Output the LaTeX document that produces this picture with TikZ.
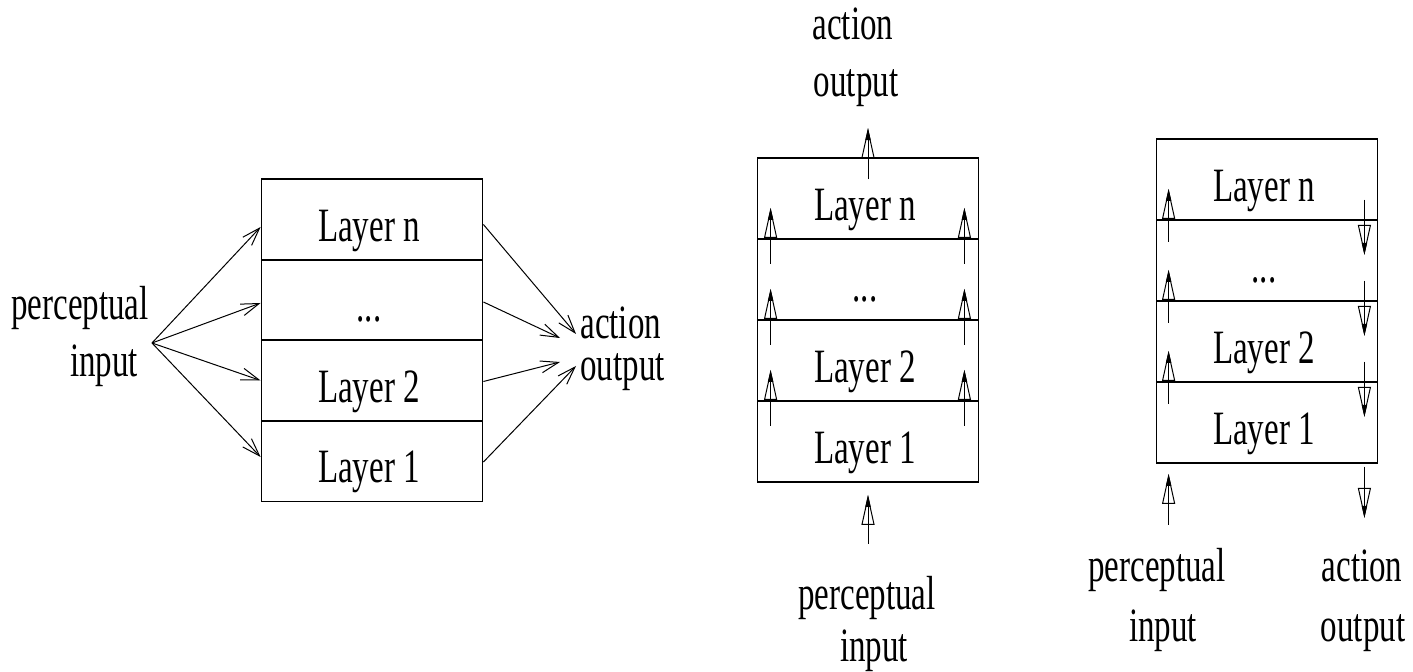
\documentclass[tikz,border=0pt]{standalone}
\usepackage{fontspec}
\usepackage{graphicx}
\setmainfont{Liberation Serif}
\usetikzlibrary{arrows.meta,calc}
\newcommand{\lblfont}{\fontsize{16.5pt}{20pt}\selectfont}
\newcommand{\st}[1]{\scalebox{1}[1.45]{#1}}
\begin{document}
\begin{tikzpicture}[x=0.5pt,y=-0.5pt,
  row/.style={draw,line width=0.9pt,minimum width=110.5pt,minimum height=40.5pt,inner sep=0pt},
  lbl/.style={inner sep=0pt,font=\lblfont,anchor=base},
  vert/.style={line width=0.5pt,-{Triangle[open,length=15pt,width=6.5pt]},
    postaction={draw,arrows=-{Triangle[length=6pt,width=2.6pt]}}},
  fan/.style={line width=0.5pt,-{Straight Barb[length=9pt,width=6pt]}}]
\useasboundingbox (0,0) rectangle (1413,672);
% ---------- left diagram ----------
\node[row] (Ln) at (372,219.5) {};
\node[row] (Ld) at (372,300) {};
\node[row] (L2) at (372,380.5) {};
\node[row] (L1) at (372,461) {};
\node[lbl] (Lnt) at ($(Ln)+(-3,22)$) {\st{Layer n}};
\node[lbl] (Ldt) at ($(Ld)+(-3,22)$) {\st{...}};
\node[lbl] (L2t) at ($(L2)+(-3,22)$) {\st{Layer 2}};
\node[lbl] (L1t) at ($(L1)+(-3,22)$) {\st{Layer 1}};
\node[lbl] (lp) at (80,320) {\st{perceptual}};
\node[lbl] (li) at (104,377) {\st{input}};
\node[lbl,anchor=base west] (la) at (580,339) {\st{action}};
\node[lbl,anchor=base west] (lo) at (580,381) {\st{output}};
\coordinate (pin) at (152,343);
\coordinate (ao1) at (576,334);
\coordinate (ao2) at (560,338);
\coordinate (ao3) at (560,362);
\coordinate (ao4) at (576,366);
\draw[fan] (pin) -- ($(Ln.west)+(0,7.5)$);
\draw[fan] (pin) -- ($(Ld.west)+(0,3)$);
\draw[fan] (pin) -- (L2.west);
\draw[fan] (pin) -- ($(L1.west)+(0,-4)$);
\draw[fan] ($(Ln.east)+(0,5)$) -- (ao1);
\draw[fan] ($(Ld.east)+(0,2)$) -- (ao2);
\draw[fan] ($(L2.east)+(0,1)$) -- (ao3);
\draw[fan] ($(L1.east)+(0,1)$) -- (ao4);
% ---------- middle diagram ----------
\node[row] (Mn) at (868,198.5) {};
\node[row] (Md) at (868,279.5) {};
\node[row] (M2) at (868,360.5) {};
\node[row] (M1) at (868,441.5) {};
\node[lbl] (Mnt) at ($(Mn)+(-3,22)$) {\st{Layer n}};
\node[lbl] (Mdt) at ($(Md)+(-3,22)$) {\st{...}};
\node[lbl] (M2t) at ($(M2)+(-3,22)$) {\st{Layer 2}};
\node[lbl] (M1t) at ($(M1)+(-3,22)$) {\st{Layer 1}};
\node[lbl] (ma) at (853,40) {\st{action}};
\node[lbl] (mo) at (856,97) {\st{output}};
\node[lbl] (mp) at (867,610) {\st{perceptual}};
\node[lbl] (mi) at (874,662) {\st{input}};
\foreach \r in {Mn,Md,M2}{
  \draw[vert] ($(\r.south west)+(14,24)$) -- ($(\r.south west)+(14,-32)$);
  \draw[vert] ($(\r.south east)+(-15,24)$) -- ($(\r.south east)+(-15,-32)$);
}
\draw[vert] ($(Mn.north)+(0,22)$) -- ($(Mn.north)+(0,-29)$);
\draw[vert] ($(M1.south)+(0,61)$) -- ($(M1.south)+(0,12)$);
% ---------- right diagram ----------
\node[row] (Rn) at (1267,179.5) {};
\node[row] (Rd) at (1267,260.5) {};
\node[row] (R2) at (1267,341.5) {};
\node[row] (R1) at (1267,422.5) {};
\node[lbl] (Rnt) at ($(Rn)+(-3,22)$) {\st{Layer n}};
\node[lbl] (Rdt) at ($(Rd)+(-3,22)$) {\st{...}};
\node[lbl] (R2t) at ($(R2)+(-3,22)$) {\st{Layer 2}};
\node[lbl] (R1t) at ($(R1)+(-3,22)$) {\st{Layer 1}};
\node[lbl] (rp) at (1157,582) {\st{perceptual}};
\node[lbl] (ri) at (1163,642) {\st{input}};
\node[lbl] (ra) at (1362,582) {\st{action}};
\node[lbl] (ro) at (1363,642) {\st{output}};
\foreach \r in {Rn,Rd,R2}{
  \draw[vert] ($(\r.south west)+(13,21)$) -- ($(\r.south west)+(13,-32)$);
  \draw[vert] ($(\r.south east)+(-14,-21)$) -- ($(\r.south east)+(-14,34)$);
}
\draw[vert] ($(R1.south west)+(13,61)$) -- ($(R1.south west)+(13,10)$);
\draw[vert] ($(R1.south east)+(-14,3)$) -- ($(R1.south east)+(-14,54)$);
\end{tikzpicture}
\end{document}
